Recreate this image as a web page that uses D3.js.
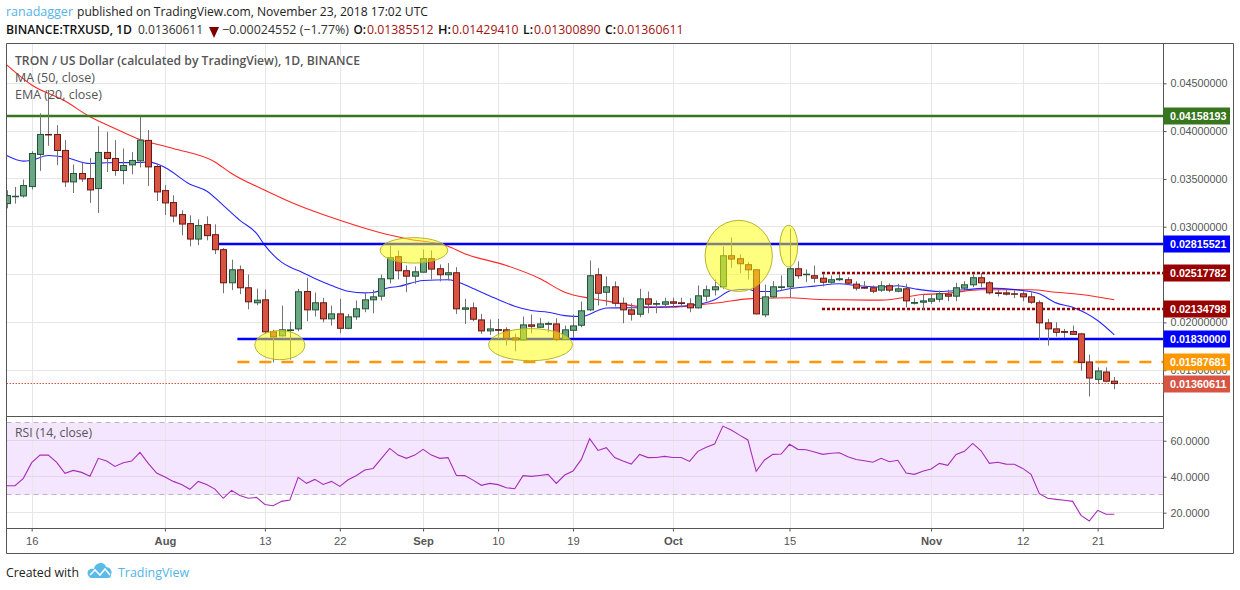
<!DOCTYPE html>
<html>
<head>
	<title>TRXUSD</title>
	<meta charset="utf-8">
	<script src="https://d3js.org/d3.v7.min.js"></script>
	<style>
	html, body{
		margin: 0;
		padding: 0;
		background: #fff;
	}
	svg{
		display: block;
	}
	.axis text{
		font-family: "Liberation Sans", Arial, sans-serif;
		font-size: 10.8px;
		fill: #555;
	}
	.axis .domain{
		display: none;
	}
	.axis line{
		stroke: #555;
	}
	.head{
		font-family: "Open Sans", sans-serif;
		font-size: 12.5px;
	}
	</style>
</head>
<body>
<svg id="chart" width="1240" height="590"></svg>
<script>
// one entry per day, 13 Jul 2018 to 23 Nov 2018
var opens = [.03242,.03314,.03322,.03420,.03756,.03965,.03965,.03798,.03469,.03557,
	.03504,.03399,.03777,.03714,.03588,.03647,.03689,.03903,.03630,.03378,
	.03253,.03127,.03033,.02871,.03022,.02917,.02760,.02414,.02550,.02362,
	.02205,.02236,.01901,.01859,.01915,.01932,.02323,.02131,.02205,.02037,
	.02089,.01938,.02058,.02142,.02236,.02274,.02456,.02687,.02540,.02483,
	.02525,.02666,.02561,.02498,.02519,.02137,.02152,.02026,.01911,.01925,
	.01922,.01838,.01817,.01974,.01949,.01980,.01984,.01823,.01917,.01970,
	.02131,.02498,.02315,.02372,.02200,.02131,.02085,.02246,.02190,.02190,
	.02215,.02205,.02194,.02152,.02274,.02341,.02372,.02697,.02666,.02603,
	.02550,.02079,.02267,.02365,.02372,.02561,.02498,.02488,.02462,.02420,
	.02446,.02446,.02400,.02365,.02362,.02337,.02383,.02326,.02351,.02200,
	.02211,.02221,.02242,.02295,.02274,.02358,.02393,.02467,.02414,.02309,
	.02309,.02299,.02299,.02267,.02205,.01995,.01932,.01904,.01904,.01880,
	.01586,.01404,.01481,.01385512];
var highs = [.03382,.03416,.03494,.03790,.04186,.04430,.04063,.03906,.03651,.03668,
	.03720,.04052,.03993,.03906,.03819,.03780,.04150,.04011,.03661,.03434,
	.03329,.03172,.03120,.03078,.03109,.03025,.02777,.02655,.02595,.02501,
	.02354,.02344,.01922,.02176,.02009,.02351,.02467,.02313,.02257,.02176,
	.02246,.02089,.02229,.02305,.02341,.02501,.02805,.02753,.02595,.02585,
	.02763,.02753,.02606,.02620,.02578,.02246,.02208,.02089,.02030,.02037,
	.01949,.01880,.02061,.02082,.02047,.02009,.02043,.01967,.02082,.02218,
	.02648,.02567,.02480,.02428,.02260,.02200,.02351,.02323,.02229,.02257,
	.02257,.02257,.02253,.02386,.02386,.02449,.02795,.02886,.02711,.02630,
	.02554,.02396,.02431,.02491,.02980,.02637,.02554,.02595,.02508,.02491,
	.02508,.02473,.02431,.02431,.02386,.02431,.02407,.02404,.02404,.02253,
	.02299,.02299,.02333,.02341,.02414,.02431,.02508,.02515,.02431,.02351,
	.02341,.02341,.02326,.02315,.02229,.02037,.02001,.01932,.01967,.01890,
	.01663,.01530,.01530,.01429410];
var lows = [.03193,.03242,.03305,.03389,.03584,.03846,.03644,.03416,.03353,.03469,
	.03249,.03144,.03573,.03532,.03444,.03549,.03620,.03427,.03269,.03123,
	.03046,.02910,.02795,.02808,.02858,.02714,.02305,.02337,.02295,.02137,
	.02179,.01880,.01582,.01851,.01610,.01907,.02012,.02061,.02001,.01967,
	.01886,.01928,.02026,.02106,.02095,.02229,.02407,.02449,.02315,.02404,
	.02522,.02449,.02428,.02438,.02089,.01984,.02012,.01880,.01869,.01827,
	.01757,.01697,.01809,.01886,.01942,.01896,.01802,.01817,.01838,.01949,
	.02117,.02176,.02176,.02166,.01991,.02019,.02054,.02095,.02095,.02158,
	.02152,.02158,.02106,.02145,.02221,.02281,.02351,.02571,.02515,.02449,
	.02082,.02054,.02257,.02333,.02257,.02456,.02420,.02414,.02375,.02404,
	.02431,.02396,.02333,.02351,.02305,.02320,.02315,.02315,.02158,.02187,
	.02131,.02194,.02211,.02221,.02221,.02326,.02368,.02368,.02291,.02271,
	.02281,.02253,.02221,.02194,.01817,.01757,.01851,.01838,.01872,.01495,
	.01225,.01355,.01372,.01300890];
var closes = [.03326,.03319,.03431,.03766,.03965,.03963,.03798,.03469,.03557,.03500,
	.03385,.03777,.03714,.03588,.03640,.03693,.03906,.03626,.03364,.03249,
	.03112,.03028,.02871,.03012,.02907,.02760,.02414,.02550,.02362,.02215,
	.02232,.01901,.01848,.01922,.01922,.02320,.02131,.02205,.02037,.02089,
	.01938,.02058,.02142,.02236,.02267,.02456,.02676,.02540,.02483,.02529,
	.02666,.02557,.02498,.02519,.02142,.02152,.02033,.01911,.01932,.01917,
	.01833,.01817,.01974,.01959,.01984,.01988,.01823,.01922,.01963,.02121,
	.02488,.02305,.02372,.02200,.02131,.02085,.02246,.02190,.02197,.02215,
	.02200,.02197,.02152,.02278,.02341,.02372,.02697,.02662,.02613,.02550,
	.02089,.02267,.02372,.02372,.02561,.02488,.02504,.02462,.02420,.02446,
	.02456,.02410,.02358,.02358,.02326,.02383,.02337,.02351,.02225,.02208,
	.02225,.02246,.02299,.02274,.02362,.02393,.02467,.02414,.02309,.02302,
	.02295,.02295,.02267,.02211,.01995,.01932,.01896,.01896,.01875,.01582,
	.01418,.01492,.01385,.01360611];

// moving averages, read where the curve bends
var emaDays = [0,2,3,5,7,10,12,16,17,19,22,24,26,28,30,31,33,34,35,37,39,41,43,44,46,47,50,53,54,56,59,61,63,65,67,69,71,72,74,78,82,85,87,89,90,92,94,97,100,102,105,107,109,112,115,118,122,124,126,128,131,133];
var emaValues = [.03745,.03686,.03696,.03745,.03727,.03661,.03670,.03672,.03678,.03620,.03445,.03374,.03224,.03067,.02931,.02805,.02630,.02578,.02543,.02459,.02386,.02326,.02309,.02313,.02365,.02375,.02438,.02446,.02428,.02354,.02239,.02169,.02124,.02106,.02071,.02061,.02124,.02150,.02152,.02158,.02176,.02236,.02333,.02347,.02323,.02323,.02351,.02379,.02404,.02386,.02370,.02383,.02351,.02323,.02341,.02358,.02333,.02299,.02204,.02158,.02019,.01869];
var maDays = [0,3,7,10,13,16,20,25,27,31,35,40,45,48,53,55,60,64,67,70,72,76,80,83,86,89,94,97,100,105,110,113,117,123,126,129,133];
var maValues = [.04692,.04482,.04314,.04150,.04028,.03913,.03819,.03678,.03557,.03382,.03224,.03067,.02934,.02875,.02795,.02718,.02595,.02459,.02316,.02253,.02225,.02166,.02158,.02183,.02211,.02246,.02257,.02242,.02236,.02233,.02291,.02305,.02341,.02341,.02315,.02291,.02236];

var rsiValues = [35,35,39.1,47.8,52,52,48,41.9,43.5,42.4,
	40.2,50.2,48.7,45.7,47.8,48.7,53.5,47.4,42,39.8,
	37.4,35.7,33,37.4,35.7,33.1,28,32.4,29.6,28,
	28.5,24.6,23.9,26.3,27,39.6,36.3,38.5,35.7,37.4,
	34.6,38.3,40.7,43.7,44.6,50.2,55.7,52,50.2,52,
	55.2,52,50.2,50.6,40.7,40.6,38.1,35.2,36.3,35.6,
	33.9,33.3,40.6,40.2,40.7,41.3,36.3,40.9,43.1,49.6,
	61.1,54.6,56.1,50.6,48.7,47,52.4,50.6,50.7,51.3,
	50.7,50.7,48.5,54.1,56.3,58.1,68.1,65.9,63.1,60.4,
	43,49.3,52.4,52.6,58,55.2,55,53.7,52.4,53,
	53.3,51.1,49.6,48.9,48,50.2,48.3,49.1,42,41.3,
	43,44.3,47.4,46.3,52.4,54.1,58.5,54.4,47.4,48,
	47,46.9,44.6,41.3,30.6,28,27.4,26.9,26.3,18.5,
	15.4,21.3,19.1,19.1];

var tickDays = [3,19,31,40,50,59,68,80,94,111,122,131];
var tickLabels = ["16","Aug","13","22","Sep","10","19","Oct","15","Nov","12","21"];
var priceTicks = [.045,.04,.035,.03,.025,.02,.015];
var rsiTicks = [60,40,20];

// drawn levels: price, first day, colour, dash
var levelPrices = [.04158193,.02815521,.02517782,.02134798,.0183,.01587681];
var levelStarts = [0,25.2,97.9,97.9,27.7,27.7];
var levelColors = ["#38761d","#0000ff","#990000","#990000","#0000ff","#ff9800"];
var levelDashes = [null,null,"3,2","3,2",null,"12,10"];

// yellow ellipses: centre day, centre price, half width in days, half height in price
var ellipseDays = [32.8,48.9,62.9,87.9,93.9];
var ellipsePrices = [.01762,.02753,.01767,.02695,.02797];
var ellipseWidths = [3,4.06,5.04,4.04,1.08];
var ellipseHeights = [.00152,.00133,.00168,.00372,.00218];

var lastPrice = .01360611;

var left = 6.5, right = 1163.5, outerRight = 1233.5;
var top_ = 43.5, paneSplit = 416.5, paneBottom = 528.5, outerBottom = 553.5;

var x = d3.scaleLinear().domain([0,133]).range([6.7,1114.3]);
var y = d3.scaleLinear().domain([.015,.045]).range([370.2,83.3]);
var yRsi = d3.scaleLinear().domain([20,60]).range([512.7,440.7]);

var svg = d3.select("#chart");

svg.append("clipPath").attr("id","priceClip").append("rect")
	.attr("x",left).attr("y",top_).attr("width",right-left).attr("height",paneSplit-top_);
svg.append("clipPath").attr("id","rsiClip").append("rect")
	.attr("x",left).attr("y",paneSplit).attr("width",right-left).attr("height",paneBottom-paneSplit);

var grid = svg.append("g").attr("stroke","#e6e6e6").attr("stroke-width",1);

// rsi band under the grid lines
svg.insert("rect","g")
	.attr("x",left).attr("width",right-left)
	.attr("y",yRsi(70)).attr("height",yRsi(30)-yRsi(70))
	.attr("fill","#f5e6ff");

tickDays.forEach(function(d){
	grid.append("line").attr("x1",Math.round(x(d))+.5).attr("x2",Math.round(x(d))+.5)
		.attr("y1",top_).attr("y2",paneBottom);
});
priceTicks.forEach(function(p){
	var gy = Math.floor(y(p))+.5;
	grid.append("line").attr("x1",left).attr("x2",right).attr("y1",gy).attr("y2",gy);
});
rsiTicks.forEach(function(p){
	var gy = Math.floor(yRsi(p))+.5;
	grid.append("line").attr("x1",left).attr("x2",right).attr("y1",gy).attr("y2",gy)
		.attr("stroke",p==20?"#e6e6e6":"#e3d3ee");
});

var price = svg.append("g").attr("clip-path","url(#priceClip)");

// last price dotted line
price.append("line")
	.attr("x1",left).attr("x2",right).attr("y1",Math.floor(y(lastPrice))+.5).attr("y2",Math.floor(y(lastPrice))+.5)
	.attr("stroke","#d75442").attr("stroke-dasharray","1.5,1.5");

function drawCurve(days, values, color){
	var line = d3.line()
		.x(function(d,i){ return x(days[i]); })
		.y(function(d){ return y(d); })
		.curve(d3.curveMonotoneX);
	price.append("path")
		.attr("d",line(values))
		.attr("fill","none")
		.attr("stroke",color)
		.attr("stroke-opacity",.85)
		.attr("stroke-width",1.1);
}
drawCurve(maDays,maValues,"#ff0000");
drawCurve(emaDays,emaValues,"#0000ff");

levelPrices.forEach(function(p,i){
	price.append("line")
		.attr("x1",x(levelStarts[i])).attr("x2",right)
		.attr("y1",Math.round(y(p))).attr("y2",Math.round(y(p)))
		.attr("stroke",levelColors[i])
		.attr("stroke-width",2.4)
		.attr("stroke-dasharray",levelDashes[i]);
});

// candles
var candles = price.selectAll(".candle").data(closes).enter().append("g").attr("class","candle");
candles.append("line")
	.attr("x1",function(d,i){ return Math.round(x(i))+.5; })
	.attr("x2",function(d,i){ return Math.round(x(i))+.5; })
	.attr("y1",function(d,i){ return y(highs[i]); })
	.attr("y2",function(d,i){ return y(lows[i]); })
	.attr("stroke","#737375");
candles.append("rect")
	.attr("x",function(d,i){ return Math.round(x(i))-2.5; })
	.attr("width",6)
	.attr("y",function(d,i){ return y(Math.max(opens[i],closes[i])); })
	.attr("height",function(d,i){ return Math.max(.5,Math.abs(y(opens[i])-y(closes[i]))); })
	.attr("fill",function(d,i){ return closes[i]>=opens[i] ? "#6ba583" : "#d75442"; })
	.attr("stroke",function(d,i){ return closes[i]>=opens[i] ? "#225437" : "#6b1713"; });

ellipseDays.forEach(function(d,i){
	price.append("ellipse")
		.attr("cx",x(d)).attr("cy",y(ellipsePrices[i]))
		.attr("rx",x(ellipseWidths[i])-x(0))
		.attr("ry",y(0)-y(ellipseHeights[i]))
		.attr("fill","#ffff00").attr("fill-opacity",.5)
		.attr("stroke","#b5b52a").attr("stroke-width",1);
});

// rsi pane
[70,30].forEach(function(v){
	svg.append("line")
		.attr("x1",left).attr("x2",right).attr("y1",Math.floor(yRsi(v))+.5).attr("y2",Math.floor(yRsi(v))+.5)
		.attr("stroke","#bfb2c6").attr("stroke-dasharray","5,4");
});
var rsiLine = d3.line()
	.x(function(d,i){ return x(i); })
	.y(function(d){ return yRsi(d); });
svg.append("g").attr("clip-path","url(#rsiClip)").append("path")
	.attr("d",rsiLine(rsiValues))
	.attr("fill","none").attr("stroke","#a62db8").attr("stroke-width",1.1);

// axes
var fmt8 = d3.format(".8f"), fmt4 = d3.format(".4f");
svg.append("g").attr("class","axis")
	.attr("transform","translate("+right+",0)")
	.call(d3.axisRight(y).tickValues(priceTicks).tickFormat(fmt8).tickSize(3).tickPadding(4));
svg.append("g").attr("class","axis")
	.attr("transform","translate("+right+",0)")
	.call(d3.axisRight(yRsi).tickValues(rsiTicks).tickFormat(fmt4).tickSize(3).tickPadding(4));
var xAxis = svg.append("g").attr("class","axis")
	.attr("transform","translate(0,"+paneBottom+")")
	.call(d3.axisBottom(x).tickValues(tickDays)
		.tickFormat(function(d,i){ return tickLabels[i]; }).tickSize(3).tickPadding(6));
xAxis.selectAll("text")
	.style("font-size","11.2px")
	.style("font-weight",function(d,i){ return isNaN(+tickLabels[i]) ? "bold" : "normal"; });

// frames
svg.append("path")
	.attr("d","M"+left+" "+top_+"H"+outerRight+"V"+outerBottom+"H"+left+"Z"
		+"M"+left+" "+paneSplit+"H"+right
		+"M"+left+" "+paneBottom+"H"+right
		+"M"+right+" "+top_+"V"+paneBottom)
	.attr("fill","none").attr("stroke","#555");

// price labels
function priceLabel(p, color){
	var g = svg.append("g").attr("transform","translate("+right+","+Math.round(y(p))+")");
	g.append("rect").attr("x",0).attr("y",-8.5).attr("width",66.5).attr("height",17).attr("fill",color);
	g.append("text").attr("x",6.5).attr("y",4)
		.attr("font-family","Liberation Sans, Arial, sans-serif")
		.attr("font-size","11.2px").attr("font-weight","bold")
		.attr("textLength",56.5).attr("lengthAdjust","spacingAndGlyphs")
		.attr("fill","#fff").text(fmt8(p));
}
levelPrices.forEach(function(p,i){ priceLabel(p,levelColors[i]); });
priceLabel(lastPrice,"#d75442");

// texts
function text(str, tx, ty, len, color, bold){
	return svg.append("text").attr("class","head")
		.attr("x",tx).attr("y",ty)
		.attr("textLength",len).attr("lengthAdjust","spacingAndGlyphs")
		.attr("fill",color)
		.attr("font-weight",bold?"600":"normal")
		.text(str);
}
text("ranadagger",6,16,67,"#54b4e6");
text("published on TradingView.com, November 23, 2018 17:02 UTC",77,16,351,"#222");

text("BINANCE:TRXUSD, 1D",6,34,126,"#111",true);
text("0.01360611",138,34,65,"#333");
svg.append("path").attr("d","M209 27H219L214 38Z").attr("fill","#7a0000");
text("\u22120.00024552 (\u22121.77%)",222,34,127,"#333");
var ohlcNames = ["O:","H:","L:","C:"];
var ohlcValues = ["0.01385512","0.01429410","0.01300890","0.01360611"];
var ohlcNameX = [353.5,438,523,605];
var ohlcValueX = [367,452,534,617];
ohlcNames.forEach(function(n,i){
	text(n,ohlcNameX[i],34,ohlcValueX[i]-ohlcNameX[i]-1,"#111",true);
	text(ohlcValues[i],ohlcValueX[i],34,66.5,"#a11212");
});

text("TRON / US Dollar (calculated by TradingView), 1D, BINANCE",15,65,345,"#555",true);
text("MA (50, close)",15,82,80,"#555");
text("EMA (20, close)",15,99,87,"#555");
text("RSI (14, close)",15,437,77,"#555");

text("Created with",6,577,73,"#222");
text("TradingView",118,577,71,"#54b4e6");
// logo
svg.append("path")
	.attr("d","M88 575C86 570 91 568 94 569C95 562 105 561 106 567C110 567 113 571 111 575C111 577 110 578 108 578H91C90 578 89 577 88 575Z")
	.attr("fill","#58bbe8");
svg.append("path")
	.attr("d","M90 575L95 570L100 575L105 569L110 575")
	.attr("fill","none").attr("stroke","#fff").attr("stroke-width",1.6);
</script>
</body>
</html>
